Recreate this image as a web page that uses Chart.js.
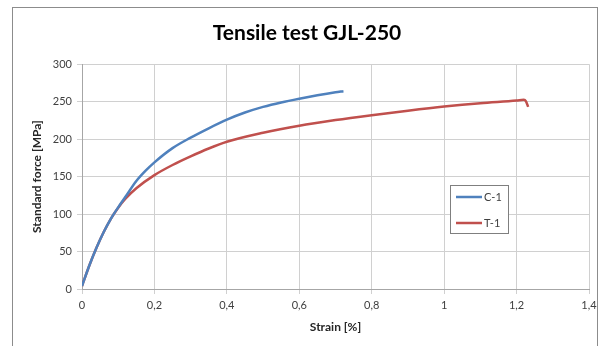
<!DOCTYPE html>
<html>
<head>
<meta charset="utf-8">
<script src="https://cdn.jsdelivr.net/npm/chart.js@4/dist/chart.umd.min.js"></script>
<style>
  html, body { margin: 0; padding: 0; background: #fff; }
  #wrap { position: relative; width: 611px; height: 346px; overflow: hidden; }
  #frame { position: absolute; left: 12px; top: 7px; width: 586px; height: 400px; border: 1px solid #8c8c8c; box-sizing: border-box; }
  canvas { position: absolute; left: 0; top: 0; }
</style>
</head>
<body>
<div id="wrap">
  <div id="frame"></div>
  <canvas id="chart" width="611" height="346"></canvas>
</div>
<script>
// C-1 curve (strain %, stress MPa)
const strainC = [0, 0.02, 0.04, 0.06, 0.08, 0.1, 0.12, 0.15, 0.175, 0.2, 0.25, 0.3, 0.35, 0.4, 0.45, 0.5, 0.55, 0.6, 0.65, 0.7, 0.722];
const stressC = [4, 31, 55, 76, 94, 109, 123, 144, 157.5, 169, 188, 202, 214.5, 226, 235.5, 243, 249, 254, 258.5, 262.5, 264];

// T-1 curve
const strainT = [0, 0.02, 0.04, 0.06, 0.08, 0.1, 0.12, 0.15, 0.2, 0.25, 0.3, 0.35, 0.4, 0.5, 0.6, 0.7, 0.8, 0.9, 1.0, 1.1, 1.2, 1.22, 1.226, 1.232];
const stressT = [4, 31, 55, 76, 94, 108.5, 120.5, 134.5, 152, 165.5, 177, 187.5, 196.5, 208.5, 218, 225.5, 232, 238, 243.5, 248, 251.5, 252.5, 250.5, 243];

const seriesNames = ['C-1', 'T-1'];
const seriesColors = ['#4F81BD', '#C0504D'];

const toPoints = (xs, ys) => xs.map((x, i) => ({ x: x, y: ys[i] }));

// legend box drawn inside the plot, like the Excel chart
const boxLegend = {
    id: 'boxLegend',
    afterDraw(chart) {
        const ctx = chart.ctx;
        const x0 = 450, y0 = 185, w = 58, h = 48;
        ctx.save();
        ctx.fillStyle = '#fff';
        ctx.fillRect(x0, y0, w, h);
        ctx.strokeStyle = '#7f7f7f';
        ctx.lineWidth = 1;
        ctx.strokeRect(x0 + 0.5, y0 + 0.5, w, h);
        ctx.font = '11px Lato';
        ctx.textBaseline = 'middle';
        chart.data.datasets.forEach((ds, i) => {
            const y = y0 + 12 + i * 26;
            ctx.strokeStyle = ds.borderColor;
            ctx.lineWidth = 2.5;
            ctx.beginPath();
            ctx.moveTo(x0 + 6, y);
            ctx.lineTo(x0 + 32, y);
            ctx.stroke();
            ctx.fillStyle = '#404040';
            ctx.fillText(ds.label, x0 + 34, y);
        });
        ctx.restore();
    }
};

const fmt = v => Number(v.toFixed(1)).toString().replace('.', ',');

new Chart(document.getElementById('chart'), {
    type: 'line',
    data: {
        datasets: [
            { label: seriesNames[0], data: toPoints(strainC, stressC), borderColor: seriesColors[0], borderWidth: 2.5, pointRadius: 0, cubicInterpolationMode: 'monotone', fill: false },
            { label: seriesNames[1], data: toPoints(strainT, stressT), borderColor: seriesColors[1], borderWidth: 2.5, pointRadius: 0, cubicInterpolationMode: 'monotone', fill: false }
        ]
    },
    options: {
        responsive: false,
        animation: false,
        layout: { padding: { left: 25, right: 22, top: 0, bottom: 0 } },
        plugins: {
            legend: { display: false },
            tooltip: { enabled: false },
            title: {
                display: true,
                text: 'Tensile test GJL-250',
                color: '#000',
                font: { family: 'Lato', size: 21, weight: 'bold' },
                padding: { top: 21, bottom: 18 }
            }
        },
        scales: {
            x: {
                type: 'linear',
                min: 0, max: 1.4,
                ticks: { stepSize: 0.2, color: '#404040', font: { family: 'Lato', size: 11 }, padding: 5, callback: v => fmt(v) },
                grid: { color: '#d0d0d0', tickLength: 5 },
                border: { color: '#a6a6a6' },
                title: { display: true, text: 'Strain [%]', color: '#262626', font: { family: 'Lato', size: 12, weight: 'bold' }, padding: { top: 4, bottom: 12 } },
                afterFit: s => { s.height = 57; }
            },
            y: {
                min: 0, max: 300,
                ticks: { stepSize: 50, color: '#404040', font: { family: 'Lato', size: 11 }, padding: 5 },
                grid: { color: '#d0d0d0', tickLength: 5 },
                border: { color: '#a6a6a6' },
                title: { display: true, text: 'Standard force [MPa]', color: '#262626', font: { family: 'Lato', size: 12, weight: 'bold' }, padding: { top: 5, bottom: 4 } },
                afterFit: s => { s.width = 57; }
            }
        }
    },
    plugins: [boxLegend]
});
</script>
</body>
</html>
